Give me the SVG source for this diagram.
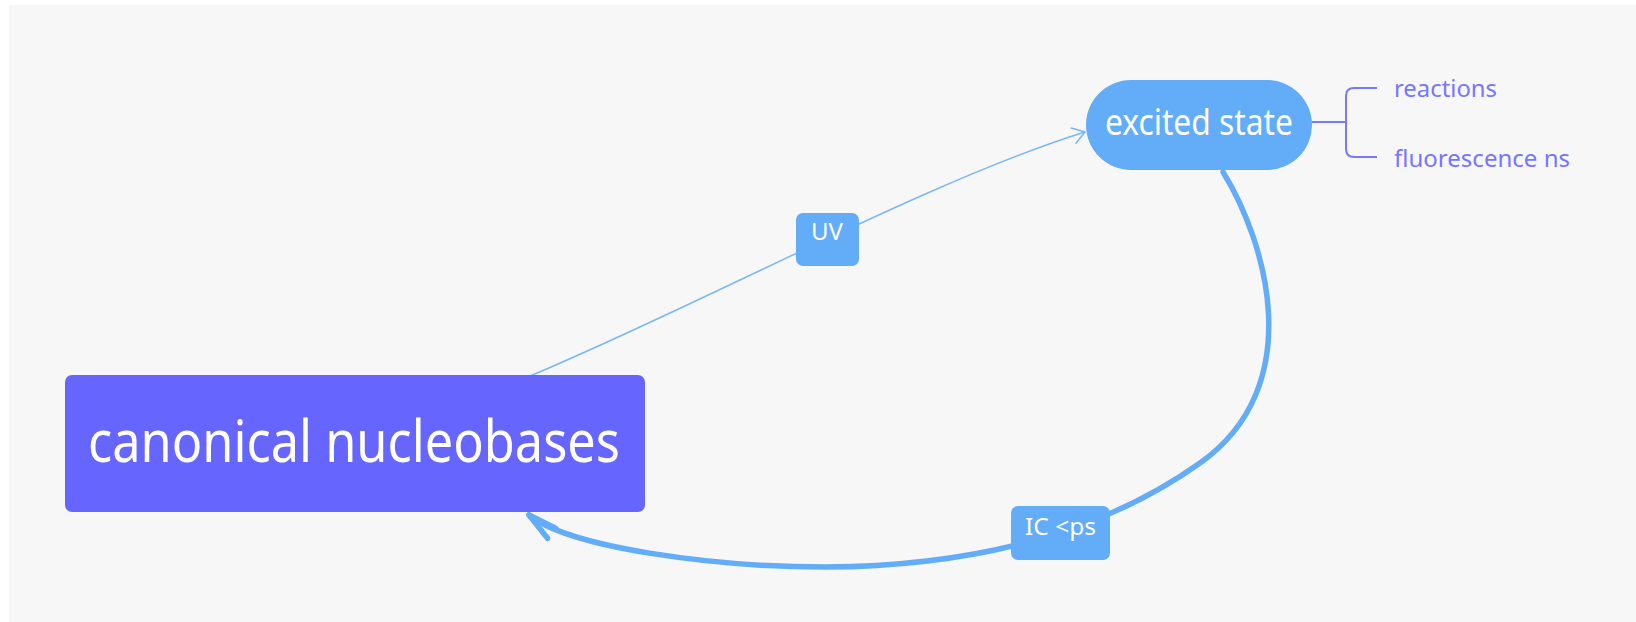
<svg xmlns="http://www.w3.org/2000/svg" width="1636" height="622" viewBox="0 0 1636 622">
  <style>
    .t { font-family: "Noto Sans", "Open Sans", "Liberation Sans", sans-serif; }
    .white { fill: #ffffff; }
    .child { fill: #7676ff; font-size: 24px; }
    .thin { fill: none; stroke: #78b7f7; stroke-width: 1.5; }
    .thick { fill: none; stroke: #62acf8; stroke-width: 5.5; stroke-linecap: round; }
    .bracket { fill: none; stroke: #7878ff; stroke-width: 2; }
    .elabel { fill: #62acf8; }
  </style>
  <defs>
    <marker id="arrThin" markerUnits="userSpaceOnUse" markerWidth="30" markerHeight="30" viewBox="-15 -15 30 30" refX="0" refY="0" orient="auto" overflow="visible">
      <path d="M -12 -8 L 0 0 L -12 8" fill="none" stroke="#78b7f7" stroke-width="1.5" stroke-linecap="round" stroke-linejoin="round"/>
    </marker>
    <marker id="arrThick" markerUnits="userSpaceOnUse" markerWidth="60" markerHeight="60" viewBox="-30 -30 60 60" refX="0" refY="0" orient="auto" overflow="visible">
      <path d="M -29 -6.5 L 0 0 L -29 6.5" fill="none" stroke="#62acf8" stroke-width="5.5" stroke-linecap="round" stroke-linejoin="round"/>
    </marker>
  </defs>

  <rect x="0" y="0" width="1636" height="622" fill="#ffffff"/>
  <rect x="9" y="5" width="1627" height="617" fill="#f7f7f7"/>

  <g id="connectors">
    <path id="edge-uv" class="thin" d="M 530 376 C 700 305, 930 180, 1085 132" marker-end="url(#arrThin)"/>
    <path id="edge-ic" class="thick" d="M 1223 172 C 1265 240, 1310 385, 1200 463 C 1110 527, 990 566, 825 567 C 715 567, 570 548, 529 515" marker-end="url(#arrThick)"/>
    <path id="edge-children" class="bracket" d="M 1312 122 H 1346 M 1377 88 H 1354 Q 1346 88 1346 96 V 149 Q 1346 157 1354 157 H 1377"/>
    <g id="label-uv">
      <rect class="elabel" x="796" y="213" width="63" height="53" rx="7"/>
      <text class="t white" x="811" y="240" font-size="24" textLength="32" lengthAdjust="spacingAndGlyphs">UV</text>
    </g>
    <g id="label-ic">
      <rect class="elabel" x="1011" y="506" width="99" height="54" rx="7"/>
      <text class="t white" x="1025" y="535" font-size="24" textLength="71" lengthAdjust="spacingAndGlyphs">IC &lt;ps</text>
    </g>
  </g>

  <g id="node-canonical">
    <rect x="65" y="375" width="580" height="137" rx="7" fill="#6666ff"/>
    <text class="t white" x="88" y="462" font-size="58" textLength="532" lengthAdjust="spacingAndGlyphs">canonical nucleobases</text>
  </g>

  <g id="node-excited">
    <rect x="1086" y="80" width="226" height="90" rx="45" fill="#62acf8"/>
    <text class="t white" x="1105" y="135" font-size="36" textLength="188" lengthAdjust="spacingAndGlyphs">excited state</text>
  </g>

  <g id="node-reactions">
    <text class="t child" x="1394" y="97" textLength="103" lengthAdjust="spacingAndGlyphs">reactions</text>
  </g>

  <g id="node-fluorescence">
    <text class="t child" x="1394" y="167" textLength="176" lengthAdjust="spacingAndGlyphs">fluorescence ns</text>
  </g>
</svg>
